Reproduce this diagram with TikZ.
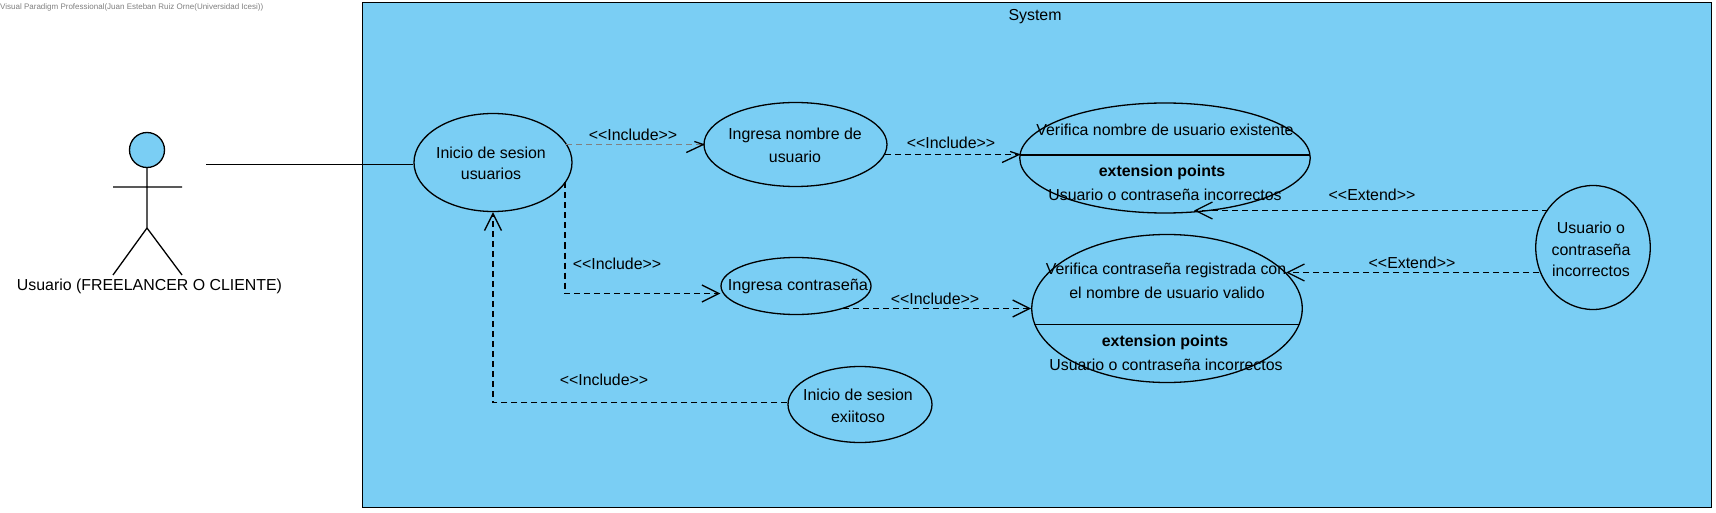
\documentclass[tikz,border=0pt]{standalone}
\usepackage{fontspec}
\setmainfont{Liberation Sans}
\usetikzlibrary{shapes.geometric,arrows.meta}
\definecolor{sysblue}{HTML}{7ACEF4}
\tikzset{
  x=1pt,y=-1pt,
  uc/.style={ellipse,draw=black,line width=1.3pt,inner sep=0pt,minimum width=#1},
  lbl/.style={font=\fontsize{15.9}{18}\selectfont,inner sep=0pt,text=black},
  blbl/.style={font=\fontsize{15.9}{18}\selectfont\bfseries,inner sep=0pt,text=black},
  conlbl/.style={lbl,yshift=-0.8pt},
  depline/.style={dash pattern=on 6pt off 4pt,line width=1.3pt},
  dep/.style={depline,-{Straight Barb[length=17pt,width=17pt,line width=1.3pt]}},
  solidl/.style={line width=1.3pt},
}
\begin{document}
\begin{tikzpicture}
\useasboundingbox (0,0) rectangle (1716,513);
\fill[white] (0,0) rectangle (1716,513);
\node[anchor=west,inner sep=0pt,text=gray,font=\fontsize{8}{9}\selectfont] (wm) at (0,7) {Visual Paradigm Professional(Juan Esteban Ruiz Orne(Universidad Icesi))};
\node[draw=black,fill=sysblue,line width=1.3pt,minimum width=1349pt,minimum height=505pt,inner sep=0pt,anchor=north west] (sys) at (362,2) {};
\node[conlbl] (syst) at (1035,15.5) {System};
% actor
\node[circle,draw=black,fill=sysblue,line width=1.3pt,minimum size=35pt,inner sep=0pt] (head) at (147,150) {};
\coordinate (hip) at (147,228);
\coordinate (arml) at (113,187);
\coordinate (armr) at (182,187);
\coordinate (legl) at (113,275);
\coordinate (legr) at (182,275);
\coordinate (assoc) at (206,164.7);
\draw[solidl] (head.south) -- (hip) (arml) -- (armr) (legl) -- (hip) -- (legr);
\node[conlbl] (actor) at (149.5,285.5) {Usuario (FREELANCER O CLIENTE)};
% use cases
\begin{scope}[yshift=-0.5pt]
\node[uc=158pt,minimum height=98pt] (ini) at (493,162) {};
\node[lbl] at (491,152) {Inicio de sesion};
\node[lbl] at (491,173) {usuarios};
\node[uc=183pt,minimum height=84pt] (nom) at (795.5,144) {};
\node[lbl] at (795,135) {Ingresa nombre de};
\node[lbl] at (795,156) {usuario};
\node[uc=150pt,minimum height=57pt] (con) at (796,285.5) {};
\node[lbl,xscale=1.03] at (798,286) {Ingresa contraseña};
\node[uc=144pt,minimum height=76pt] (exi) at (860,404) {};
\node[lbl] at (858,394) {Inicio de sesion};
\node[lbl] at (858,416) {exiitoso};
\node[uc=290.5pt,minimum height=110pt] (vn) at (1165,157.5) {};
\draw[solidl] (1019.5,154.5) -- (1310,154.5);
\node[lbl] at (1165,129) {Verifica nombre de usuario existente};
\node[blbl] at (1162,172) {extension points};
\node[lbl] at (1165,194) {Usuario o contraseña incorrectos};
\node[uc=270.5pt,minimum height=148pt] (vc) at (1167,308) {};
\draw[solidl] (1034,324) -- (1300,324);
\node[lbl] at (1166,270) {Verifica contraseña registrada con};
\node[lbl] at (1167,292) {el nombre de usuario valido};
\node[blbl] at (1165,342) {extension points};
\node[lbl] at (1166,364) {Usuario o contraseña incorrectos};
\node[uc=114.5pt,minimum height=124pt] (inc) at (1593,247) {};
\node[lbl] at (1591,227) {Usuario o};
\node[lbl] at (1591,249) {contraseña};
\node[lbl] at (1591,270) {incorrectos};
% connectors
\draw[solidl] (assoc) -- (ini.west |- assoc);
\coordinate (t1) at (nom.west |- 0,144);
\draw[depline,draw=black!50,line width=.8pt] (566,144) -- (t1);
\draw[solidl] ([shift={(-9,-3)}]t1) -- (t1) -- ([shift={(-17,8)}]t1);
\draw[dep] (565,182) -- (565,293) -- (con.west |- 0,293);
\draw[dep] (exi.west |- 0,402) -- (493,402) -- (ini.south -| 493,0);
\coordinate (t2) at (vn.west |- 0,154);
\draw[depline] (885,154) -- (t2);
\draw[solidl] ([shift={(-9,-3)}]t2) -- (t2) -- ([shift={(-17,8)}]t2);
\draw[dep] (843,308) -- (vc.west |- 0,308);
\coordinate (s1) at (1548,210);
\coordinate (e1) at (1194,210);
\coordinate (s2) at (1539,272);
\coordinate (e2) at (1286,272);
\draw[dep] (s1) -- (e1);
\draw[dep] (s2) -- (e2);
% labels
\node[conlbl] (l1) at (633,134) {<{}<Include>{}>};
\node[conlbl] (l2) at (617,263) {<{}<Include>{}>};
\node[conlbl] (l3) at (604,379) {<{}<Include>{}>};
\node[conlbl] (l4) at (951,142) {<{}<Include>{}>};
\node[conlbl] (l5) at (935,298) {<{}<Include>{}>};
\node[conlbl] (l6) at (1372,194) {<{}<Extend>{}>};
\node[conlbl] (l7) at (1412,262) {<{}<Extend>{}>};
\end{scope}
\end{tikzpicture}
\end{document}
